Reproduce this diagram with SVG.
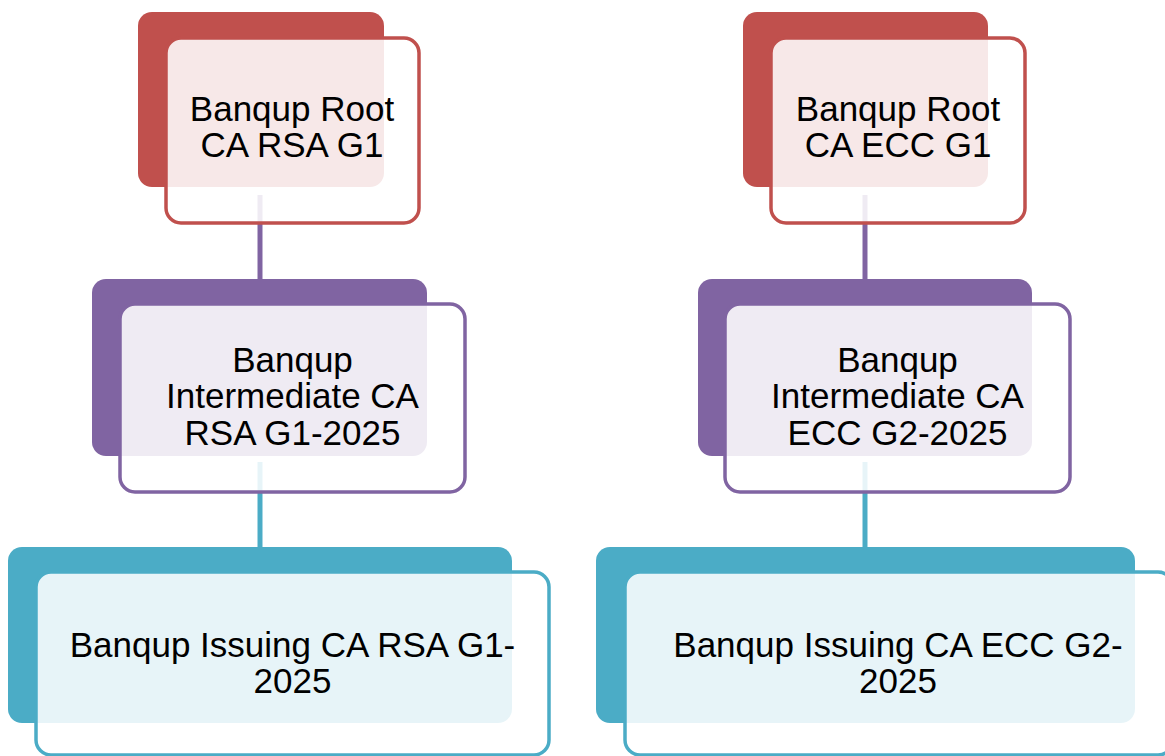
<svg xmlns="http://www.w3.org/2000/svg" width="1165" height="756" viewBox="0 0 1165 756">
<style>
.t{font-family:"Liberation Sans",Arial,sans-serif;font-size:35px;fill:#000;text-anchor:middle}
.front{fill:#fff;fill-opacity:0.87;stroke-width:3.5}
.red .back{fill:#C0504D}.red .front{stroke:#C0504D}
.pur .back{fill:#8064A2}.pur .front{stroke:#8064A2}
.teal .back{fill:#4BACC6}.teal .front{stroke:#4BACC6}
.c{stroke-width:5;fill:none}
</style>
<rect width="1165" height="756" fill="#fff"/>
<g id="connectors">
<line class="c" x1="260" y1="195" x2="260" y2="282" stroke="#8064A2"/>
<line class="c" x1="260" y1="462" x2="260" y2="550" stroke="#4BACC6"/>
<line class="c" x1="865" y1="195" x2="865" y2="282" stroke="#8064A2"/>
<line class="c" x1="865" y1="462" x2="865" y2="550" stroke="#4BACC6"/>
</g>
<g id="root-rsa" class="red">
<rect class="back" x="138" y="12" width="246" height="175" rx="14"/>
<rect class="front" x="166" y="38" width="253" height="185" rx="15"/>
<text class="t"><tspan x="292" y="121">Banqup Root</tspan><tspan x="292" y="157">CA RSA G1</tspan></text>
</g>
<g id="int-rsa" class="pur">
<rect class="back" x="92" y="279" width="335" height="177" rx="14"/>
<rect class="front" x="120" y="304" width="345" height="188" rx="15"/>
<text class="t"><tspan x="292.5" y="372">Banqup</tspan><tspan x="292.5" y="408">Intermediate CA</tspan><tspan x="292.5" y="445">RSA G1-2025</tspan></text>
</g>
<g id="iss-rsa" class="teal">
<rect class="back" x="8" y="547" width="504" height="176" rx="14"/>
<rect class="front" x="36" y="572" width="513" height="183" rx="15"/>
<text class="t"><tspan x="292.5" y="657">Banqup Issuing CA RSA G1-</tspan><tspan x="292.5" y="693">2025</tspan></text>
</g>
<g id="root-ecc" class="red">
<rect class="back" x="743" y="12" width="245" height="175" rx="14"/>
<rect class="front" x="771" y="38" width="254" height="185" rx="15"/>
<text class="t"><tspan x="898" y="121">Banqup Root</tspan><tspan x="898" y="157">CA ECC G1</tspan></text>
</g>
<g id="int-ecc" class="pur">
<rect class="back" x="698" y="279" width="334" height="177" rx="14"/>
<rect class="front" x="725" y="304" width="345" height="188" rx="15"/>
<text class="t"><tspan x="897.5" y="372">Banqup</tspan><tspan x="897.5" y="408">Intermediate CA</tspan><tspan x="897.5" y="445">ECC G2-2025</tspan></text>
</g>
<g id="iss-ecc" class="teal">
<rect class="back" x="596" y="547" width="539" height="176" rx="14"/>
<rect class="front" x="625" y="572" width="548" height="183" rx="15"/>
<text class="t"><tspan x="898" y="657">Banqup Issuing CA ECC G2-</tspan><tspan x="898" y="693">2025</tspan></text>
</g>
</svg>
